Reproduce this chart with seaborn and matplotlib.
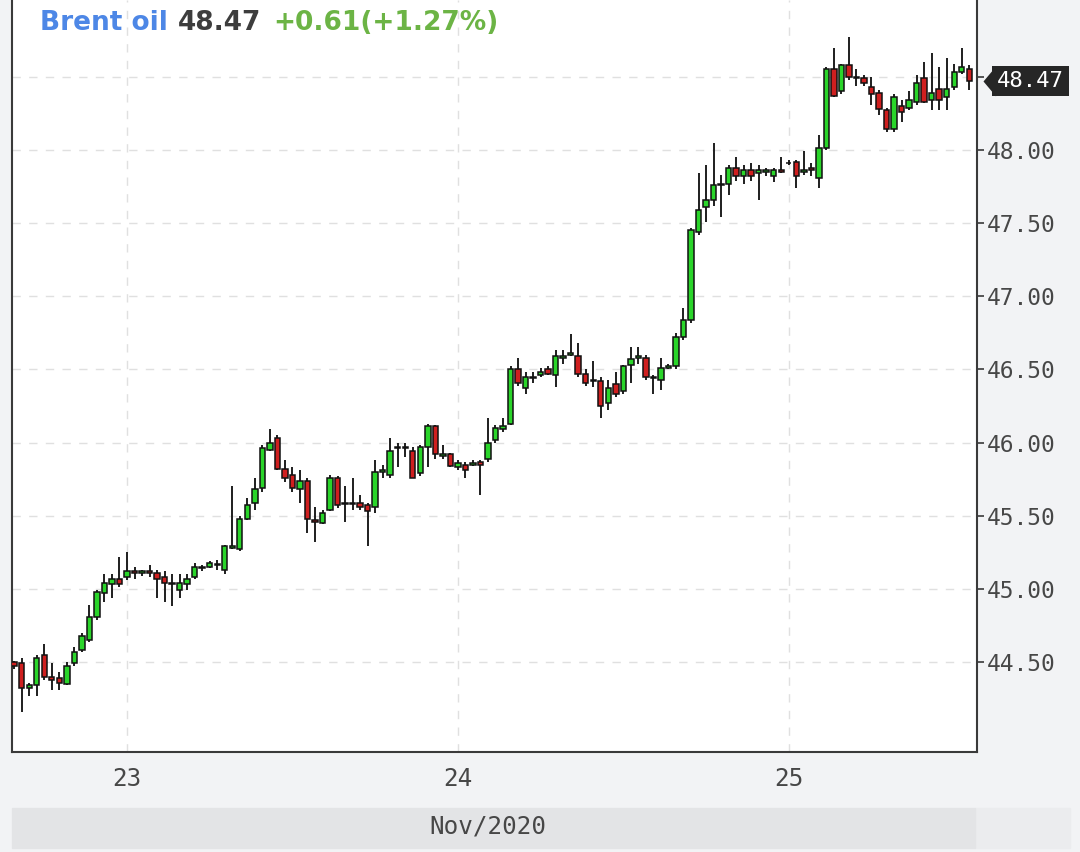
import numpy as np
import pandas as pd
import seaborn as sns
import matplotlib.pyplot as plt
from matplotlib.patches import Rectangle
from matplotlib import transforms

# Brent oil, 30 min candles, 22-25 Nov 2020
opens = [
    44.50, 44.49, 44.32, 44.34, 44.55, 44.40, 44.39, 44.35, 44.49, 44.58,
    44.65, 44.81, 44.97, 45.03, 45.07, 45.08, 45.12, 45.11, 45.12, 45.11,
    45.08, 45.04, 44.99, 45.03, 45.08, 45.14, 45.15, 45.16, 45.13, 45.28,
    45.27, 45.48, 45.59, 45.69, 45.95, 46.03, 45.82, 45.78, 45.68, 45.74,
    45.47, 45.45, 45.54, 45.76, 45.59, 45.59, 45.59, 45.57, 45.56, 45.80,
    45.78, 45.97, 45.96, 45.94, 45.79, 45.97, 46.11, 45.91, 45.92, 45.83,
    45.85, 45.85, 45.87, 45.89, 46.02, 46.09, 46.13, 46.50, 46.37, 46.44,
    46.46, 46.50, 46.46, 46.58, 46.60, 46.59, 46.47, 46.43, 46.42, 46.27,
    46.40, 46.35, 46.53, 46.58, 46.58, 46.45, 46.43, 46.51, 46.52, 46.72,
    46.84, 47.44, 47.61, 47.66, 47.76, 47.77, 47.88, 47.82, 47.86, 47.84,
    47.85, 47.82, 47.86, 47.91, 47.92, 47.85, 47.88, 47.81, 48.01, 48.55,
    48.40, 48.58, 48.50, 48.49, 48.43, 48.39, 48.27, 48.14, 48.30, 48.29,
    48.33, 48.49, 48.34, 48.42, 48.36, 48.43, 48.53, 48.55,
]
highs = [
    44.51, 44.53, 44.36, 44.55, 44.62, 44.49, 44.43, 44.50, 44.60, 44.70,
    44.89, 44.99, 45.10, 45.10, 45.22, 45.25, 45.15, 45.13, 45.16, 45.13,
    45.12, 45.10, 45.10, 45.10, 45.18, 45.16, 45.19, 45.20, 45.30, 45.70,
    45.50, 45.62, 45.76, 45.98, 46.09, 46.05, 45.88, 45.83, 45.81, 45.76,
    45.56, 45.54, 45.78, 45.77, 45.70, 45.76, 45.64, 45.59, 45.88, 45.85,
    46.03, 46.00, 46.00, 45.97, 45.98, 46.13, 46.12, 45.98, 45.93, 45.88,
    45.87, 45.88, 45.88, 46.17, 46.12, 46.17, 46.52, 46.58, 46.48, 46.48,
    46.51, 46.52, 46.63, 46.63, 46.74, 46.68, 46.50, 46.56, 46.45, 46.43,
    46.48, 46.53, 46.65, 46.65, 46.60, 46.46, 46.58, 46.54, 46.75, 46.92,
    47.47, 47.84, 47.90, 48.05, 47.83, 47.90, 47.95, 47.90, 47.91, 47.90,
    47.88, 47.88, 47.95, 47.93, 47.93, 47.99, 47.91, 48.10, 48.57, 48.70,
    48.59, 48.77, 48.55, 48.51, 48.50, 48.41, 48.29, 48.38, 48.34, 48.40,
    48.51, 48.60, 48.66, 48.57, 48.63, 48.59, 48.70, 48.58,
]
lows = [
    44.45, 44.16, 44.27, 44.27, 44.38, 44.31, 44.31, 44.34, 44.47, 44.57,
    44.64, 44.79, 44.91, 44.94, 45.01, 45.06, 45.07, 45.09, 45.08, 44.94,
    44.91, 44.88, 44.94, 44.99, 45.07, 45.12, 45.14, 45.13, 45.10, 45.27,
    45.26, 45.47, 45.54, 45.66, 45.94, 45.81, 45.73, 45.66, 45.59, 45.38,
    45.32, 45.44, 45.53, 45.55, 45.46, 45.54, 45.54, 45.29, 45.52, 45.76,
    45.76, 45.83, 45.90, 45.76, 45.77, 45.83, 45.89, 45.89, 45.83, 45.81,
    45.76, 45.84, 45.64, 45.87, 46.00, 46.07, 46.12, 46.39, 46.33, 46.41,
    46.45, 46.46, 46.38, 46.54, 46.59, 46.45, 46.39, 46.38, 46.17, 46.22,
    46.31, 46.33, 46.41, 46.54, 46.43, 46.33, 46.36, 46.50, 46.50, 46.70,
    46.82, 47.42, 47.51, 47.62, 47.54, 47.69, 47.79, 47.77, 47.79, 47.66,
    47.82, 47.78, 47.84, 47.90, 47.74, 47.83, 47.82, 47.74, 48.00, 48.36,
    48.38, 48.48, 48.44, 48.44, 48.31, 48.24, 48.12, 48.12, 48.19, 48.27,
    48.31, 48.32, 48.27, 48.27, 48.27, 48.41, 48.52, 48.41,
]
closes = [
    44.47, 44.32, 44.34, 44.53, 44.40, 44.38, 44.36, 44.47, 44.57, 44.68,
    44.81, 44.98, 45.04, 45.07, 45.03, 45.12, 45.11, 45.12, 45.11, 45.07,
    45.04, 45.03, 45.04, 45.07, 45.15, 45.15, 45.18, 45.17, 45.29, 45.29,
    45.48, 45.57, 45.68, 45.96, 46.00, 45.82, 45.76, 45.69, 45.74, 45.48,
    45.46, 45.52, 45.76, 45.57, 45.58, 45.58, 45.56, 45.53, 45.80, 45.81,
    45.94, 45.96, 45.97, 45.76, 45.97, 46.11, 45.92, 45.92, 45.84, 45.86,
    45.81, 45.86, 45.85, 46.00, 46.10, 46.11, 46.50, 46.41, 46.45, 46.45,
    46.48, 46.47, 46.59, 46.59, 46.61, 46.47, 46.41, 46.42, 46.25, 46.37,
    46.33, 46.52, 46.57, 46.59, 46.45, 46.44, 46.51, 46.52, 46.72, 46.84,
    47.45, 47.59, 47.66, 47.76, 47.77, 47.88, 47.82, 47.86, 47.82, 47.86,
    47.86, 47.86, 47.85, 47.91, 47.82, 47.86, 47.86, 48.01, 48.55, 48.37,
    48.58, 48.50, 48.49, 48.46, 48.38, 48.28, 48.14, 48.36, 48.26, 48.34,
    48.46, 48.33, 48.39, 48.34, 48.42, 48.53, 48.57, 48.47,
]

title_name = 'Brent oil'
last_price = '48.47'
change_text = '+0.61(+1.27%)'
month_label = 'Nov/2020'
y_ticks = [44.5, 45.0, 45.5, 46.0, 46.5, 47.0, 47.5, 48.0, 48.5]

# trading session 01:00-23:00, candles every 30 min
times = pd.date_range('2020-11-22 15:30', '2020-11-25 13:00', freq='30min')
times = times[(times.hour >= 1) & (times.hour < 23)]

df = pd.DataFrame({'time': times, 'open': opens, 'high': highs,
                   'low': lows, 'close': closes})
df['x'] = np.arange(len(df))
up = df['close'] >= df['open']

sns.set_style('white')
plt.rcParams['font.family'] = ['DejaVu Sans']
mono = 'DejaVu Sans Mono'

fig = plt.figure(figsize=(10.8, 8.52), dpi=100, facecolor='#f2f3f5')
ax = fig.add_axes([12 / 1080, 100 / 852, 965 / 1080, 752 / 852])
ax.set_facecolor('white')

# wicks + bodies
ax.vlines(df['x'], df['low'], df['high'], color='#1e1e1e', lw=1.4, zorder=3)
body_low = np.minimum(df['open'], df['close'])
body_h = (df['close'] - df['open']).abs().clip(lower=0.004)
ax.bar(df['x'], body_h, bottom=body_low, width=0.72,
       color=np.where(up, '#2ad52a', '#cf1f1f'),
       edgecolor='#111111', lw=1.1, zorder=4)

# day ticks where the date changes
new_day = df['time'].dt.date != df['time'].dt.date.shift()
day_idx = df.index[new_day][1:]
ax.set_xticks(day_idx)
ax.set_xticklabels([str(df['time'][i].day) for i in day_idx])

ax.set_xlim(-0.29, 128.03)
ax.set_ylim(43.885, 49.025)

ax.yaxis.tick_right()
ax.set_yticks(y_ticks)
# 48.50 is hidden behind the last-price tag
ax.set_yticklabels(['%.2f' % v if v < 48.5 else '' for v in y_ticks])
ax.grid(True, color='#e0e0e0', lw=1, ls=(0, (6, 6)), zorder=0)

ax.tick_params(axis='both', colors='#3a3a3a', labelcolor='#474747',
               length=5, width=1.2, direction='out')
ax.tick_params(axis='x', pad=6)
ax.tick_params(axis='y', pad=2)
for lab in ax.get_xticklabels():
    lab.set_fontfamily(mono)
    lab.set_fontsize(17.5)
for lab in ax.get_yticklabels():
    lab.set_fontfamily(mono)
    lab.set_fontsize(16.5)

ax.spines['top'].set_visible(False)
for s in ['left', 'right', 'bottom']:
    ax.spines[s].set_color('#3a3a3a')
    ax.spines[s].set_linewidth(1.5)

# last price tag
trans = transforms.blended_transform_factory(ax.transAxes, ax.transData)
last_close = df['close'].iloc[-1]
ax.text(1.0205, last_close, last_price, transform=trans, family=mono,
        ha='left', va='center', fontsize=16, color='white', zorder=10,
        clip_on=False,
        bbox=dict(boxstyle='square,pad=0.22', fc='#262626', ec='none'))
ax.plot([1.0062], [last_close], transform=trans, clip_on=False, zorder=9,
        marker=[(0, 0), (0.42, 0.5), (0.42, -0.5)], ms=21.5,
        color='#262626', mec='none')

# header
fig.text(40 / 1080, 1 - 23 / 852, title_name, color='#4d87e6',
         fontsize=19, fontweight='bold', va='center')
fig.text(178 / 1080, 1 - 23 / 852, last_price, color='#3d3d3d',
         fontsize=19, fontweight='bold', va='center')
fig.text(273 / 1080, 1 - 23 / 852, change_text, color='#6cb445',
         fontsize=19, fontweight='bold', va='center')

# month band at the bottom
fig.patches.append(Rectangle((975 / 1080, 4 / 852), 95 / 1080, 40 / 852,
                             transform=fig.transFigure, color='#ebecee', zorder=0))
fig.patches.append(Rectangle((12 / 1080, 4 / 852), 963 / 1080, 40 / 852,
                             transform=fig.transFigure, color='#e3e4e6', zorder=0))
fig.text(488 / 1080, 25 / 852, month_label, ha='center', va='center',
         family=mono, fontsize=17.5, color='#474747')

fig.savefig('out.png', dpi=100, facecolor=fig.get_facecolor())
